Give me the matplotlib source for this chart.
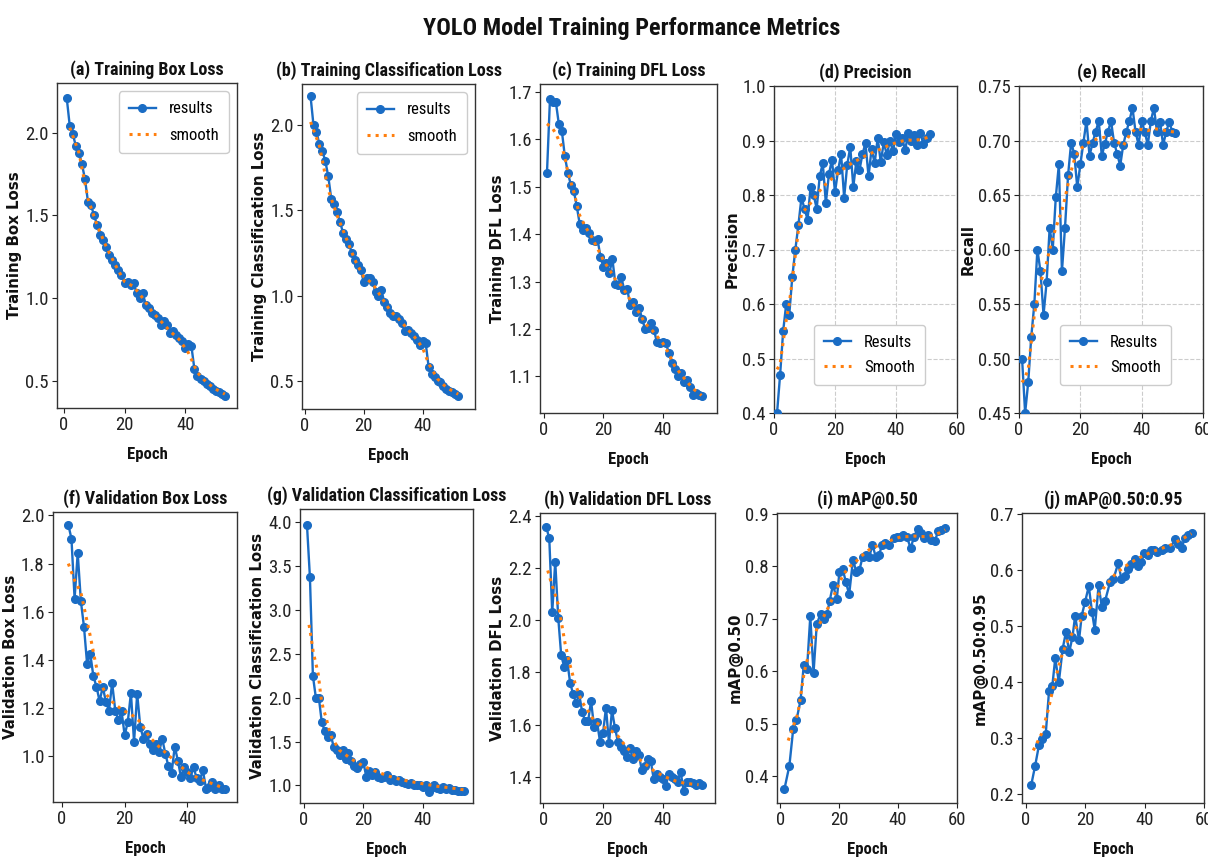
import numpy as np
import matplotlib
matplotlib.use("Agg")
import matplotlib.pyplot as plt
from matplotlib import font_manager

# ---------------- data ----------------
box_train = [2.21, 2.04, 1.99, 1.92, 1.88, 1.81, 1.72, 1.58, 1.56, 1.50,
             1.44, 1.38, 1.35, 1.31, 1.26, 1.23, 1.20, 1.17, 1.14, 1.09,
             1.10, 1.08, 1.09, 1.03, 1.00, 1.03, 0.96, 0.94, 0.91, 0.90,
             0.88, 0.84, 0.86, 0.84, 0.79, 0.80, 0.78, 0.76, 0.74, 0.70,
             0.72, 0.71, 0.57, 0.53, 0.51, 0.50, 0.48, 0.47, 0.45, 0.44,
             0.43, 0.42, 0.41]
box_train_start = 1
box_train_s_ep = [2, 5, 8, 11, 14, 17, 20, 23, 26, 29, 32, 35, 38, 41, 44, 47, 50, 53]
box_train_s = [2.03, 1.88, 1.60, 1.44, 1.31, 1.20, 1.10, 1.07, 1.00, 0.92,
               0.86, 0.80, 0.75, 0.67, 0.55, 0.49, 0.45, 0.42]

cls_train = [2.17, 2.00, 1.96, 1.89, 1.85, 1.79, 1.70, 1.57, 1.54, 1.49,
             1.43, 1.37, 1.33, 1.30, 1.25, 1.21, 1.18, 1.15, 1.08, 1.10,
             1.10, 1.08, 1.02, 1.00, 1.03, 0.96, 0.93, 0.90, 0.88, 0.88,
             0.86, 0.84, 0.79, 0.80, 0.78, 0.76, 0.74, 0.71, 0.73, 0.72,
             0.58, 0.54, 0.52, 0.50, 0.49, 0.47, 0.45, 0.44, 0.43, 0.42, 0.41]
cls_train_start = 2
cls_train_s_ep = [2, 5, 8, 11, 14, 17, 20, 23, 26, 29, 32, 35, 38, 40, 42, 45, 48, 52]
cls_train_s = [2.02, 1.88, 1.62, 1.47, 1.34, 1.21, 1.11, 1.07, 0.99, 0.91,
               0.86, 0.80, 0.74, 0.69, 0.60, 0.51, 0.46, 0.42]

dfl_train = [1.530, 1.685, 1.680, 1.678, 1.632, 1.618, 1.565, 1.530, 1.505, 1.492,
             1.460, 1.422, 1.408, 1.413, 1.402, 1.388, 1.385, 1.390, 1.352, 1.330,
             1.340, 1.318, 1.348, 1.296, 1.294, 1.310, 1.282, 1.285, 1.250, 1.257,
             1.237, 1.245, 1.222, 1.200, 1.202, 1.212, 1.198, 1.172, 1.170, 1.172,
             1.170, 1.150, 1.128, 1.115, 1.100, 1.108, 1.088, 1.092, 1.078, 1.062,
             1.065, 1.060, 1.058]
dfl_train_start = 1
dfl_train_s_ep = [1, 2, 3, 4, 5, 6, 7, 8, 10, 12, 14, 16, 18, 20, 22, 24, 26, 28, 30,
                  32, 34, 36, 38, 40, 42, 44, 46, 48, 50, 52, 53]
dfl_train_s = [1.633, 1.628, 1.622, 1.612, 1.598, 1.585, 1.563, 1.532, 1.49, 1.44,
               1.415, 1.395, 1.37, 1.345, 1.325, 1.305, 1.292, 1.272, 1.252, 1.235,
               1.212, 1.200, 1.185, 1.170, 1.148, 1.122, 1.105, 1.090, 1.075, 1.065, 1.060]

precision = [0.40, 0.47, 0.55, 0.60, 0.58, 0.65, 0.70, 0.745, 0.795, 0.775,
             0.755, 0.815, 0.80, 0.775, 0.835, 0.858, 0.785, 0.838, 0.865, 0.805,
             0.845, 0.875, 0.795, 0.855, 0.888, 0.815, 0.862, 0.845, 0.875, 0.895,
             0.834, 0.885, 0.858, 0.905, 0.86, 0.897, 0.873, 0.90, 0.88, 0.912,
             0.897, 0.905, 0.882, 0.913, 0.90, 0.91, 0.892, 0.914, 0.893, 0.905, 0.912]
precision_start = 1
precision_s_ep = [1, 2, 3, 4, 5, 6, 7, 8, 9, 10, 12, 14, 16, 18, 20, 22, 24, 26, 28, 30,
                  32, 34, 36, 38, 40, 42, 44, 46, 48, 50, 51]
precision_s = [0.48, 0.49, 0.53, 0.57, 0.60, 0.645, 0.69, 0.735, 0.765, 0.772,
               0.785, 0.80, 0.815, 0.825, 0.835, 0.845, 0.853, 0.86, 0.866, 0.872,
               0.877, 0.882, 0.887, 0.892, 0.896, 0.899, 0.901, 0.900, 0.902, 0.905, 0.907]

recall = [0.50, 0.45, 0.478, 0.52, 0.55, 0.60, 0.58, 0.54, 0.57, 0.62,
          0.60, 0.648, 0.678, 0.58, 0.62, 0.668, 0.698, 0.688, 0.657, 0.678,
          0.698, 0.718, 0.686, 0.698, 0.708, 0.718, 0.686, 0.697, 0.708, 0.718,
          0.698, 0.688, 0.677, 0.696, 0.708, 0.718, 0.73, 0.708, 0.696, 0.718,
          0.708, 0.696, 0.718, 0.73, 0.708, 0.717, 0.696, 0.708, 0.717, 0.708, 0.707]
recall_start = 1
recall_s_ep = [1, 2, 3, 4, 5, 6, 7, 8, 9, 10, 11, 12, 13, 14, 15, 16, 17, 18, 19, 20,
               22, 24, 26, 28, 30, 32, 34, 36, 38, 40, 42, 44, 46, 48, 50, 51]
recall_s = [0.478, 0.483, 0.49, 0.515, 0.54, 0.555, 0.57, 0.578, 0.588, 0.60,
            0.61, 0.62, 0.628, 0.636, 0.647, 0.66, 0.672, 0.682, 0.688, 0.692,
            0.697, 0.700, 0.702, 0.703, 0.702, 0.699, 0.695, 0.705, 0.711, 0.710,
            0.709, 0.711, 0.710, 0.709, 0.708, 0.708]

box_val = [1.961, 1.903, 1.655, 1.844, 1.645, 1.538, 1.383, 1.427, 1.333, 1.289,
           1.229, 1.289, 1.227, 1.19, 1.305, 1.19, 1.15, 1.188, 1.088, 1.143,
           1.263, 1.06, 1.26, 1.122, 1.074, 1.095, 1.052, 1.025, 1.052, 1.018,
           1.074, 1.011, 0.959, 0.931, 1.041, 0.983, 0.914, 0.956, 0.935, 0.91,
           0.956, 0.91, 0.90, 0.942, 0.867, 0.874, 0.895, 0.867, 0.88, 0.867, 0.867]
box_val_start = 2
box_val_s_ep = [2, 4, 6, 7.5, 9, 10.5, 12, 14, 16, 19.5, 22, 25, 28, 31, 34, 37, 40, 44, 48, 52]
box_val_s = [1.80, 1.73, 1.68, 1.59, 1.50, 1.40, 1.31, 1.26, 1.227, 1.19,
             1.176, 1.143, 1.08, 1.04, 1.005, 0.97, 0.935, 0.907, 0.887, 0.867]

cls_val = [3.97, 3.37, 2.25, 2.00, 2.00, 1.72, 1.62, 1.55, 1.58, 1.44,
           1.40, 1.35, 1.40, 1.30, 1.37, 1.28, 1.22, 1.20, 1.25, 1.27,
           1.10, 1.17, 1.12, 1.15, 1.10, 1.08, 1.10, 1.12, 1.06, 1.07,
           1.05, 1.06, 1.04, 1.03, 1.02, 1.03, 1.00, 1.01, 1.01, 0.98,
           1.00, 0.93, 0.97, 1.00, 0.97, 0.96, 0.98, 0.96, 0.97, 0.95,
           0.95, 0.94, 0.94, 0.94]
cls_val_start = 1
cls_val_s_ep = [1.7, 2.4, 3.1, 4.0, 4.8, 5.7, 6.5, 7.4, 8.2, 9.3, 12, 16, 20, 25, 30, 35, 40, 45, 50, 54]
cls_val_s = [2.83, 2.69, 2.52, 2.39, 2.27, 2.01, 1.87, 1.78, 1.67, 1.55,
             1.40, 1.30, 1.22, 1.15, 1.09, 1.05, 1.02, 0.99, 0.97, 0.95]

dfl_val = [2.355, 2.314, 2.03, 2.224, 2.01, 1.865, 1.822, 1.847, 1.758, 1.718,
           1.682, 1.718, 1.65, 1.613, 1.613, 1.69, 1.592, 1.61, 1.535, 1.567,
           1.665, 1.528, 1.655, 1.587, 1.535, 1.516, 1.50, 1.477, 1.51, 1.47,
           1.50, 1.485, 1.425, 1.44, 1.47, 1.46, 1.39, 1.41, 1.40, 1.39,
           1.365, 1.41, 1.40, 1.39, 1.38, 1.42, 1.345, 1.38, 1.38, 1.375,
           1.37, 1.375, 1.37]
dfl_val_start = 1
dfl_val_s_ep = [1.5, 2.5, 3.9, 5.0, 6.1, 7.3, 8.9, 10.6, 12.8, 15.1, 17.3, 19.6, 22.9,
                25.1, 27.4, 30.7, 34.1, 37.4, 40.8, 44.1, 47.5, 52]
dfl_val_s = [2.19, 2.15, 2.10, 2.06, 1.99, 1.91, 1.83, 1.76, 1.69, 1.65, 1.61, 1.595,
             1.575, 1.555, 1.52, 1.48, 1.45, 1.42, 1.40, 1.385, 1.375, 1.37]

map50_ep = [1.4, 3.1, 4.4, 5.5, 6.9, 8.0, 9.1, 10.2, 11.3, 12.4,
            13.7, 14.8, 15.9, 16.8, 17.9, 19.2, 20.1, 21.2, 22.3, 23.4,
            24.7, 25.8, 26.9, 28.0, 29.1, 30.2, 31.3, 32.4, 33.5, 34.6,
            35.7, 36.8, 38.5, 39.6, 40.7, 41.8, 42.9, 44.3, 45.4, 46.7,
            47.8, 48.9, 50.0, 51.1, 52.5, 53.6, 54.7, 56.0]
map50 = [0.375, 0.42, 0.49, 0.507, 0.545, 0.613, 0.605, 0.705, 0.597, 0.69,
         0.71, 0.70, 0.71, 0.735, 0.765, 0.738, 0.79, 0.795, 0.77, 0.747,
         0.813, 0.79, 0.794, 0.819, 0.821, 0.818, 0.841, 0.819, 0.822, 0.841,
         0.845, 0.841, 0.854, 0.857, 0.857, 0.861, 0.857, 0.835, 0.857, 0.872,
         0.864, 0.854, 0.861, 0.851, 0.849, 0.867, 0.87, 0.873]
map50_s_ep = [2.7, 4.4, 6.0, 8.2, 10.4, 12.6, 14.8, 17.0, 19.2, 21.4,
              23.6, 25.8, 28.0, 30.2, 32.4, 34.6, 36.8, 39.0, 41.2, 43.4,
              45.6, 47.8, 50.0, 52.2, 54.4, 56.0]
map50_s = [0.468, 0.495, 0.52, 0.60, 0.65, 0.683, 0.705, 0.73, 0.757, 0.785,
           0.80, 0.81, 0.822, 0.832, 0.838, 0.843, 0.848, 0.853, 0.857, 0.857,
           0.858, 0.857, 0.857, 0.86, 0.865, 0.87]

map5095_ep = [1.8, 3.1, 4.4, 5.5, 6.7, 7.8, 8.9, 9.9, 11.1, 12.4,
              13.5, 14.6, 15.7, 16.6, 17.9, 18.8, 19.9, 21.2, 22.3, 23.2,
              24.5, 25.6, 26.7, 28.4, 29.5, 31.1, 32.2, 33.3, 34.4, 35.5,
              36.6, 37.7, 38.8, 39.9, 41.0, 42.1, 43.2, 44.3, 45.9, 47.0,
              48.7, 50.3, 51.4, 52.5, 53.6, 54.7, 55.8]
map5095 = [0.215, 0.249, 0.286, 0.298, 0.307, 0.383, 0.392, 0.442, 0.399, 0.459,
           0.489, 0.453, 0.48, 0.518, 0.474, 0.518, 0.542, 0.571, 0.524, 0.493,
           0.573, 0.533, 0.545, 0.579, 0.584, 0.612, 0.584, 0.59, 0.602, 0.611,
           0.62, 0.607, 0.614, 0.63, 0.627, 0.635, 0.636, 0.632, 0.635, 0.639,
           0.64, 0.655, 0.646, 0.64, 0.658, 0.662, 0.666]
map5095_s_ep = [2.5, 5.3, 7.5, 9.7, 11.9, 14.1, 16.3, 18.5, 21.2, 23.9, 27.3, 30.5,
                34.9, 39.3, 43.7, 48.1, 52.5, 55.8]
map5095_s = [0.277, 0.307, 0.349, 0.40, 0.444, 0.474, 0.492, 0.51, 0.53, 0.552,
             0.575, 0.595, 0.612, 0.625, 0.635, 0.643, 0.655, 0.665]

# ---------------- styling ----------------
avail = {f.name for f in font_manager.fontManager.ttflist}
NARROW = next((n for n in ["Liberation Sans Narrow", "Roboto Condensed",
                           "Open Sans Condensed", "Roboto"] if n in avail), "DejaVu Sans")
BLUE = "#1a6cc4"
ORANGE = "#ff7f0e"
W, H = 1208, 859

plt.rcParams["font.family"] = [NARROW, "DejaVu Sans"]

fig = plt.figure(figsize=(W / 100, H / 100), dpi=100)
fig.patch.set_facecolor("white")


def box(l, r, t, b):
    return [l / W, 1 - b / H, (r - l) / W, (b - t) / H]


def ep_range(start, vals):
    return np.arange(start, start + len(vals))


panels = [
    dict(t="(a) Training Box Loss", yl="Training Box Loss",
         x=ep_range(box_train_start, box_train), y=box_train,
         sx=box_train_s_ep, sy=box_train_s, pos=box(57, 237, 83, 408),
         xlim=(-2.2, 57), ylim=(0.336, 2.30), yt=np.arange(0.5, 2.01, 0.5),
         xt=[0, 20, 40], grid=False, leg=("results", "smooth"), loc="upper right"),
    dict(t="(b) Training Classification Loss", yl="Training Classification Loss",
         x=ep_range(cls_train_start, cls_train), y=cls_train,
         sx=cls_train_s_ep, sy=cls_train_s, pos=box(302, 475, 84, 409),
         xlim=(-0.9, 57.7), ylim=(0.333, 2.243), yt=np.arange(0.5, 2.01, 0.5),
         xt=[0, 20, 40], grid=False, leg=("results", "smooth"), loc="upper right"),
    dict(t="(c) Training DFL Loss", yl="Training DFL Loss",
         x=ep_range(dfl_train_start, dfl_train), y=dfl_train,
         sx=dfl_train_s_ep, sy=dfl_train_s, pos=box(540, 717, 84, 413),
         xlim=(-1.35, 58.2), ylim=(1.023, 1.717), yt=np.arange(1.1, 1.71, 0.1),
         xt=[0, 20, 40], grid=False, leg=None),
    dict(t="(d) Precision", yl="Precision",
         x=ep_range(precision_start, precision), y=precision,
         sx=precision_s_ep, sy=precision_s, pos=box(774, 957, 86, 413),
         xlim=(0, 60), ylim=(0.4, 1.0), yt=np.arange(0.4, 1.01, 0.1),
         xt=[0, 20, 40, 60], grid=True, leg=("Results", "Smooth"), loc="lower right"),
    dict(t="(e) Recall", yl="Recall",
         x=ep_range(recall_start, recall), y=recall,
         sx=recall_s_ep, sy=recall_s, pos=box(1019, 1203, 86, 413),
         xlim=(0, 60), ylim=(0.45, 0.75), yt=np.arange(0.45, 0.751, 0.05),
         xt=[0, 20, 40, 60], grid=True, leg=("Results", "Smooth"), loc="lower right"),
    dict(t="(f) Validation Box Loss", yl="Validation Box Loss",
         x=ep_range(box_val_start, box_val), y=box_val,
         sx=box_val_s_ep, sy=box_val_s, pos=box(53, 237, 512, 802),
         xlim=(-2.9, 55.9), ylim=(0.811, 2.014), yt=np.arange(1.0, 2.01, 0.2),
         xt=[0, 20, 40], grid=False, leg=None),
    dict(t="(g) Validation Classification Loss", yl="Validation Classification Loss",
         x=ep_range(cls_val_start, cls_val), y=cls_val,
         sx=cls_val_s_ep, sy=cls_val_s, pos=box(300, 473, 509, 803),
         xlim=(-1.35, 57), ylim=(0.80, 4.15), yt=np.arange(1.0, 4.01, 0.5),
         xt=[0, 20, 40], grid=False, leg=None),
    dict(t="(h) Validation DFL Loss", yl="Validation DFL Loss",
         x=ep_range(dfl_val_start, dfl_val), y=dfl_val,
         sx=dfl_val_s_ep, sy=dfl_val_s, pos=box(540, 715, 513, 803),
         xlim=(-1.1, 57.5), ylim=(1.30, 2.41), yt=np.arange(1.4, 2.41, 0.2),
         xt=[0, 20, 40], grid=False, leg=None),
    dict(t="(i) mAP@0.50", yl="mAP@0.50",
         x=map50_ep, y=map50, sx=map50_s_ep, sy=map50_s, pos=box(777, 957, 513, 803),
         xlim=(-1.1, 60), ylim=(0.349, 0.902), yt=np.arange(0.4, 0.91, 0.1),
         xt=[0, 20, 40, 60], grid=False, leg=None),
    dict(t="(j) mAP@0.50:0.95", yl="mAP@0.50:0.95",
         x=map5095_ep, y=map5095, sx=map5095_s_ep, sy=map5095_s, pos=box(1022, 1204, 513, 803),
         xlim=(-1.3, 60), ylim=(0.183, 0.702), yt=np.arange(0.2, 0.71, 0.1),
         xt=[0, 20, 40, 60], grid=False, leg=None),
]

for p in panels:
    ax = fig.add_axes(p["pos"])
    lab = p["leg"] or ("results", "smooth")
    ax.plot(p["x"], p["y"], "-o", color=BLUE, lw=1.7, ms=5.5, label=lab[0], zorder=3)
    ax.plot(p["sx"], p["sy"], ":", color=ORANGE, lw=2.2, label=lab[1], zorder=4)
    ax.set_xlim(*p["xlim"])
    ax.set_ylim(*p["ylim"])
    ax.set_yticks(p["yt"])
    ax.set_xticks(p["xt"])
    ax.tick_params(labelsize=13.5, length=3.5, width=0.8, pad=2.5, colors="#222222")
    for s in ax.spines.values():
        s.set_color("#333333")
        s.set_linewidth(1.0)
    ax.set_title(p["t"], fontsize=13, fontweight="bold", pad=6, color="#111111")
    ax.set_xlabel("Epoch", fontsize=12, fontweight="bold", labelpad=9, color="#111111")
    ax.set_ylabel(p["yl"], fontsize=10.8, fontweight="bold", family="DejaVu Sans",
                  labelpad=2, color="#111111")
    if p["grid"]:
        ax.grid(True, linestyle="--", color="#cccccc", linewidth=0.8)
        ax.set_axisbelow(True)
    if p["leg"]:
        if p["loc"] == "upper right":
            ax.legend(loc="upper right", fontsize=12, handlelength=1.6,
                      labelspacing=0.7, borderpad=0.6, framealpha=1, edgecolor="#cccccc")
        else:
            ax.legend(loc="lower right", bbox_to_anchor=(0.87, 0.06), fontsize=12,
                      handlelength=1.6, labelspacing=0.6, borderpad=0.6,
                      framealpha=1, edgecolor="#cccccc")

fig.text(632 / W, 1 - 28 / H, "YOLO Model Training Performance Metrics",
         ha="center", va="center", fontsize=17.5, fontweight="bold", color="#111111")

fig.savefig("out.png", dpi=100, facecolor="white")
